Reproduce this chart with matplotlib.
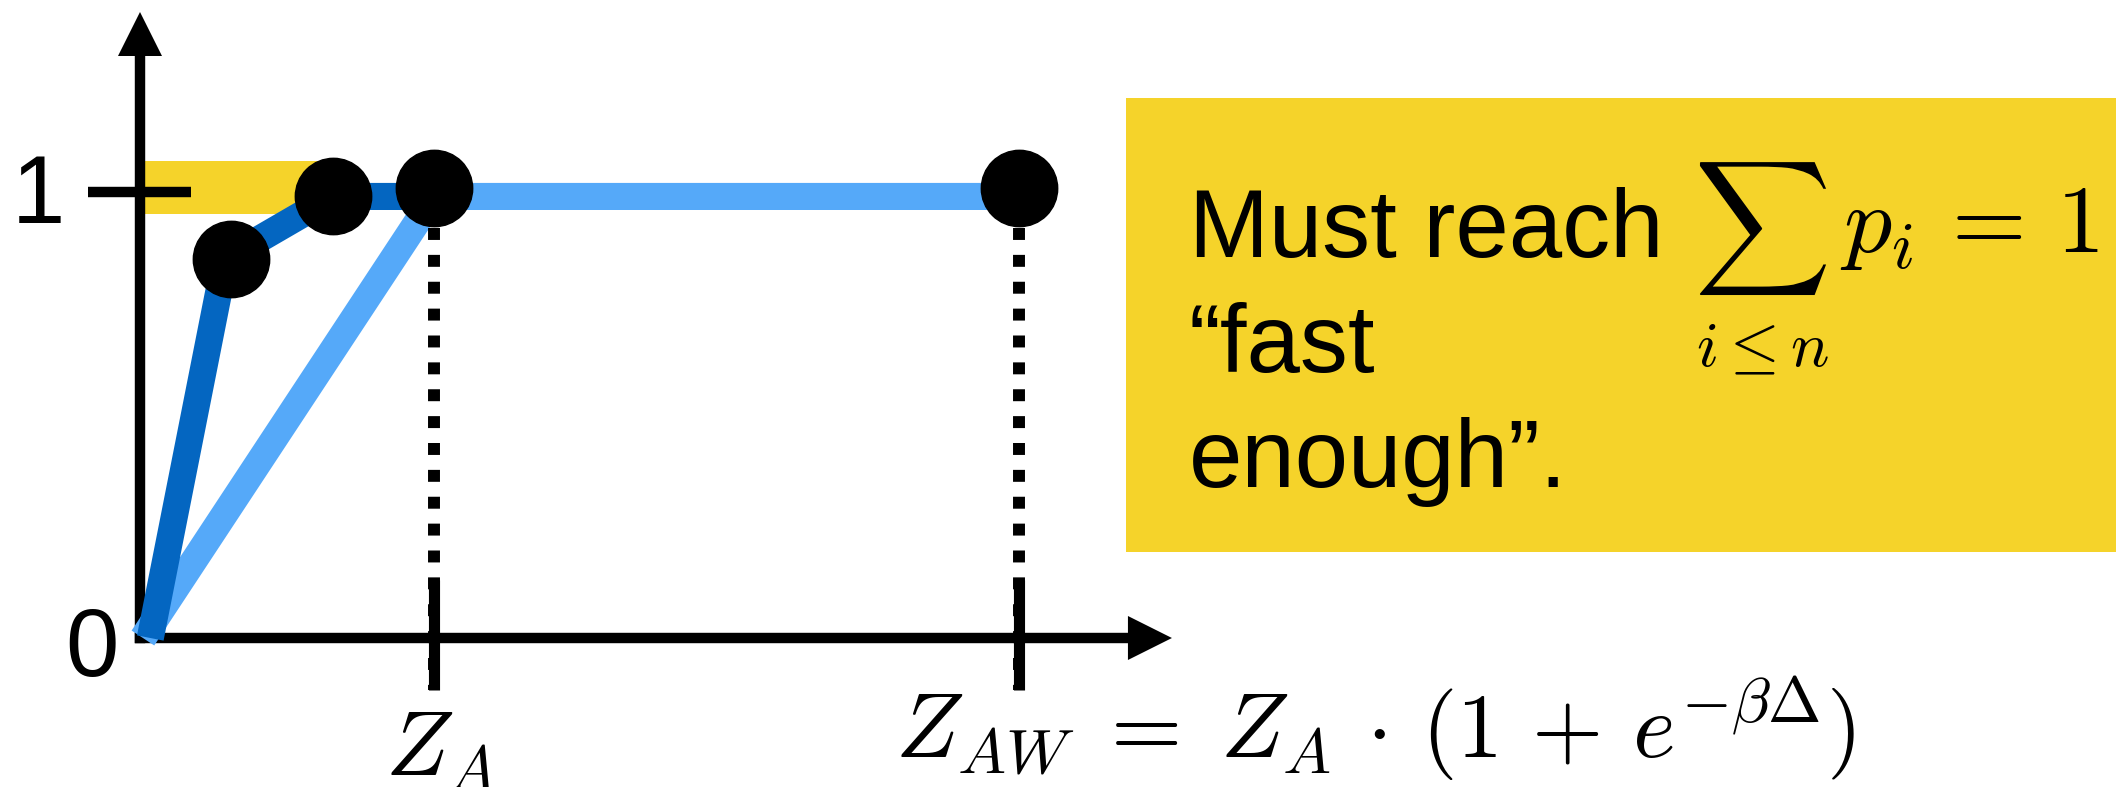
import matplotlib
matplotlib.use("Agg")
import matplotlib.pyplot as plt
import matplotlib.transforms as mtransforms
from matplotlib.patches import Rectangle, PathPatch
from matplotlib.textpath import TextPath
from matplotlib.font_manager import FontProperties

plt.rcParams['mathtext.fontset'] = 'cm'
plt.rcParams['font.family'] = ['Liberation Sans', 'DejaVu Sans']

# data (x in units of Z_A, y = cumulative probability)
dark_x = [0.035, 0.29, 0.656, 1.0]
dark_y = [0.0, 0.85, 0.99, 0.99]
light_x = [0.01, 1.0, 3.0]
light_y = [0.0, 0.99, 0.99]
dots_x = [0.31, 0.656, 1.0, 2.99]
dots_y = [0.85, 0.99, 1.01, 1.01]
marks_x = [1.0, 2.99]
band_x = [0.0, 0.65]
band_lo = [0.95, 0.95]
band_hi = [1.07, 1.07]
ytick_vals = [1, 0]
ytick_labels = ["1", "0"]

YELLOW = "#F5D32A"
DARK = "#0466C1"
LIGHT = "#55A9F9"

fig = plt.figure(figsize=(21.16, 7.87), dpi=100)
ax = fig.add_axes([0, 0, 1, 1])
ax.set_xlim(-140 / 294, 1976 / 294)
ax.set_ylim(-149 / 446, 638 / 446)
ax.axis('off')

# yellow band near 1
ax.fill_between(band_x, band_lo, band_hi, color=YELLOW, lw=0, zorder=1)

# axes with arrows
ax.plot([0, 3.4], [0, 0], color='k', lw=7.5, solid_capstyle='projecting', zorder=2)
ax.plot([0, 0], [0, 1.32], color='k', lw=7.5, solid_capstyle='projecting', zorder=2)
head = dict(arrowstyle='-|>,head_length=1.32,head_width=0.66', mutation_scale=24,
            lw=0, fc='k', ec='k', shrinkA=0, shrinkB=0)
ax.annotate('', xy=(3.51, 0), xytext=(3.0, 0), arrowprops=head, zorder=2)
ax.annotate('', xy=(0, 1.4036), xytext=(0, 1.2), arrowprops=head, zorder=2)

# y ticks
ax.hlines(ytick_vals[0], -0.177, 0.173, color='k', lw=7.5, zorder=2)
ax.text(-0.345, ytick_vals[0] - 0.07, ytick_labels[0], fontsize=69, ha='center', va='baseline')
ax.text(-0.163, ytick_vals[1] - 0.085, ytick_labels[1], fontsize=69, ha='center', va='baseline')

# curves
ax.plot(light_x, light_y, color=LIGHT, lw=19.5, solid_capstyle='butt', zorder=3)
ax.plot(dark_x, dark_y, color=DARK, lw=19.5, solid_capstyle='butt', zorder=4)

# dotted guides and x ticks
for mx in marks_x:
    ax.plot([mx, mx], [0.92, -0.117], color='k', lw=8.6, dashes=(1, 1.25), zorder=3.5)
    ax.vlines(mx, -0.117, 0.13, color='k', lw=8.0, zorder=3.5)

ax.plot(dots_x, dots_y, 'o', color='k', markersize=55, zorder=5)

# x labels
ax.text(0.833, -0.307, r'$Z_A$', fontsize=66, ha='left', va='baseline')
ax.text(2.568, -0.269, r'$Z_{AW} \;=\; Z_A \,\cdot\, (1 \,+\, e^{-\beta\Delta})$',
        fontsize=66, ha='left', va='baseline')

# annotation box
ax.add_patch(Rectangle((3.354, 0.193), 3.5, 1.018, color=YELLOW, lw=0, zorder=1,
                       clip_on=False))
ax.text(3.568, 0.854, "Must reach", fontsize=69, va='baseline')
ax.text(3.568, 0.596, "\u201cfast", fontsize=69, va='baseline')
ax.text(3.568, 0.338, "enough\u201d.", fontsize=69, va='baseline')

# big sigma, fitted into its box (display-style sum)
sig = TextPath((0, 0), r'$\sum$', size=100, prop=FontProperties(math_fontfamily='cm'))
ext = sig.get_extents()
bx0, bx1, by0, by1 = 5.306, 5.735, 0.769, 1.067
tr = (mtransforms.Affine2D().translate(-ext.x0, -ext.y0)
      .scale((bx1 - bx0) / ext.width, (by1 - by0) / ext.height)
      .translate(bx0, by0) + ax.transData)
ax.add_patch(PathPatch(sig, transform=tr, fc='k', lw=0, zorder=3))

ax.text(5.520, 0.646, r'$i\leq n$', fontsize=46, ha='center', va='center')
ax.text(5.782, 0.865, r'$p_i \,=\, 1$', fontsize=69, ha='left', va='baseline')

fig.savefig("out.png", dpi=100)
